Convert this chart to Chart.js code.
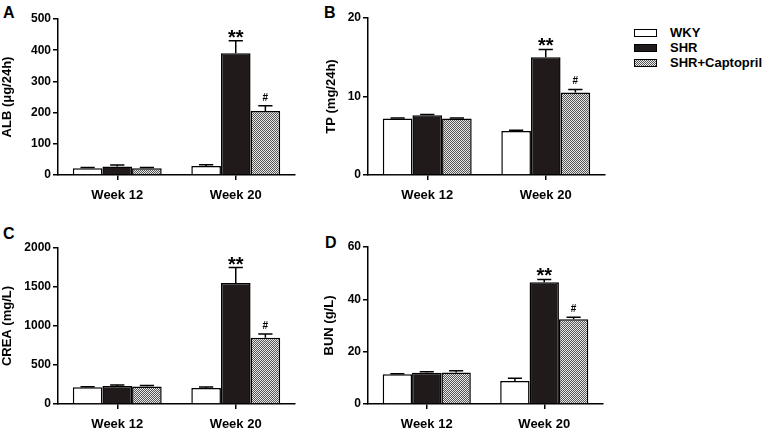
<!DOCTYPE html>
<html>
<head>
<meta charset="utf-8">
<script src="https://cdn.jsdelivr.net/npm/chart.js@4.4.0/dist/chart.umd.min.js"></script>
<style>
  body { margin: 0; width: 779px; height: 437px; background: #fff; position: relative; overflow: hidden;
         font-family: "Liberation Sans", Arial, sans-serif; }
  canvas { position: absolute; }
  .letter { position: absolute; font-weight: bold; font-size: 16px; line-height: 16px; color: #000; }
  .legend { position: absolute; left: 634px; top: 25px; }
  .item { height: 15px; display: flex; align-items: center; font-weight: bold; font-size: 13px; }
  .sw { width: 21px; height: 6px; border: 1px solid #000; margin-right: 13px; box-sizing: content-box; }
</style>
</head>
<body>
<div class="letter" style="left:3px;top:5px">A</div>
<div class="letter" style="left:324px;top:5px">B</div>
<div class="letter" style="left:3px;top:226px">C</div>
<div class="letter" style="left:325px;top:235px">D</div>

<canvas id="chartA" width="310" height="208"></canvas>
<canvas id="chartB" width="296" height="208"></canvas>
<canvas id="chartC" width="310" height="208"></canvas>
<canvas id="chartD" width="296" height="208"></canvas>

<div class="legend">
  <div class="item"><span class="sw" style="background:#fff"></span>WKY</div>
  <div class="item"><span class="sw" style="background:#211a1a"></span>SHR</div>
  <div class="item"><span class="sw" style="background:repeating-conic-gradient(#555 0 25%, #eee 0 50%) 0 0/2px 2px"></span>SHR+Captopril</div>
</div>

<script>
// categories and series
const weeks = ['Week 12', 'Week 20'];

const albWKY = [22, 29],   albWKYErr = [2, 4];
const albSHR = [27, 390],  albSHRErr = [5, 40];
const albCap = [22, 205],  albCapErr = [2, 17];

const tpWKY = [7.2, 5.6],  tpWKYErr = [0.05, 0.1];
const tpSHR = [7.6, 15.0], tpSHRErr = [0.1, 1.0];
const tpCap = [7.2, 10.5], tpCapErr = [0.05, 0.4];

const creaWKY = [215, 205],  creaWKYErr = [5, 12];
const creaSHR = [230, 1550], creaSHRErr = [12, 200];
const creaCap = [225, 848],  creaCapErr = [12, 48];

const bunWKY = [11.4, 8.8],  bunWKYErr = [0.2, 1.0];
const bunSHR = [11.9, 46.5], bunSHRErr = [0.4, 1.1];
const bunCap = [12.0, 32.4], bunCapErr = [0.7, 0.8];

const sigSHR = ['', '**'];
const sigCap = ['', '#'];

function checker() {
  const c = document.createElement('canvas');
  c.width = c.height = 2;
  const g = c.getContext('2d');
  g.fillStyle = '#e8e8e8'; g.fillRect(0, 0, 2, 2);
  g.fillStyle = '#555'; g.fillRect(0, 0, 1, 1); g.fillRect(1, 1, 1, 1);
  return g.createPattern(c, 'repeat');
}
const hatch = checker();

// error bars + significance marks
const errorBars = {
  id: 'errorBars',
  afterDatasetsDraw(chart) {
    const ctx = chart.ctx, y = chart.scales.y;
    ctx.save();
    ctx.strokeStyle = '#000';
    ctx.fillStyle = '#000';
    ctx.lineWidth = 1.5;
    chart.data.datasets.forEach((ds, i) => {
      chart.getDatasetMeta(i).data.forEach((bar, j) => {
        const top = y.getPixelForValue(ds.data[j] + ds.errors[j]);
        const hw = bar.width * 0.24;
        ctx.beginPath();
        ctx.moveTo(bar.x, bar.y);
        ctx.lineTo(bar.x, top);
        ctx.moveTo(bar.x - hw, top);
        ctx.lineTo(bar.x + hw, top);
        ctx.stroke();
        const mark = ds.marks ? ds.marks[j] : '';
        ctx.textAlign = 'center';
        ctx.textBaseline = 'alphabetic';
        if (mark === '**') {
          ctx.font = 'bold 20px "Liberation Sans", Arial';
          ctx.fillText(mark, bar.x, top + 3);
        } else if (mark) {
          ctx.font = 'bold 10px "Liberation Sans", Arial';
          ctx.fillText(mark, bar.x, top - 5);
        }
      });
    });
    ctx.restore();
  }
};

function makeChart(id, pos, title, max, step, wky, wkyErr, shr, shrErr, cap, capErr) {
  const cv = document.getElementById(id);
  cv.style.left = pos.left + 'px';
  cv.style.top = pos.top + 'px';
  return new Chart(cv, {
    type: 'bar',
    data: {
      labels: weeks,
      datasets: [
        { label: 'WKY', data: wky, errors: wkyErr, backgroundColor: '#fff' },
        { label: 'SHR', data: shr, errors: shrErr, marks: sigSHR, backgroundColor: '#211a1a' },
        { label: 'SHR+Captopril', data: cap, errors: capErr, marks: sigCap, backgroundColor: hatch }
      ]
    },
    options: {
      responsive: false,
      animation: false,
      devicePixelRatio: 1,
      layout: { padding: { top: pos.padTop, right: 15, bottom: 0, left: 0 } },
      datasets: {
        bar: { borderColor: '#000', borderWidth: 1.5, barPercentage: 1, categoryPercentage: 0.75 }
      },
      plugins: { legend: { display: false }, tooltip: { enabled: false } },
      scales: {
        x: {
          offset: true,
          grid: { display: true, drawOnChartArea: false, offset: false, tickLength: 5, color: '#000', lineWidth: 1.5 },
          border: { color: '#000', width: 1.5 },
          ticks: { color: '#000', padding: 8, font: { family: '"Liberation Sans", Arial', size: 13, weight: 'bold' } },
          afterFit(s) { s.height = 33; }
        },
        y: {
          min: 0,
          max: max,
          ticks: { stepSize: step, color: '#000', padding: 2, callback: v => String(v),
                   font: { family: '"Liberation Sans", Arial', size: 12, weight: 'bold' } },
          grid: { drawOnChartArea: false, tickLength: 5, color: '#000', lineWidth: 1.5 },
          border: { color: '#000', width: 1.5 },
          title: { display: true, text: title, color: '#000', padding: 0,
                   font: { family: '"Liberation Sans", Arial', size: 13, weight: 'bold' } },
          afterFit(s) { s.width = pos.yWidth; }
        }
      }
    },
    plugins: [errorBars]
  });
}

makeChart('chartA', { left: 0, top: 0, yWidth: 58, padTop: 19 }, 'ALB (\u03bcg/24h)', 500, 100,
  albWKY, albWKYErr, albSHR, albSHRErr, albCap, albCapErr);
makeChart('chartB', { left: 324, top: 0, yWidth: 44, padTop: 18 }, 'TP (mg/24h)', 20, 10,
  tpWKY, tpWKYErr, tpSHR, tpSHRErr, tpCap, tpCapErr);
makeChart('chartC', { left: 0, top: 229, yWidth: 58, padTop: 19 }, 'CREA (mg/L)', 2000, 500,
  creaWKY, creaWKYErr, creaSHR, creaSHRErr, creaCap, creaCapErr);
makeChart('chartD', { left: 322, top: 229, yWidth: 46, padTop: 18 }, 'BUN (g/L)', 60, 20,
  bunWKY, bunWKYErr, bunSHR, bunSHRErr, bunCap, bunCapErr);
</script>
</body>
</html>
